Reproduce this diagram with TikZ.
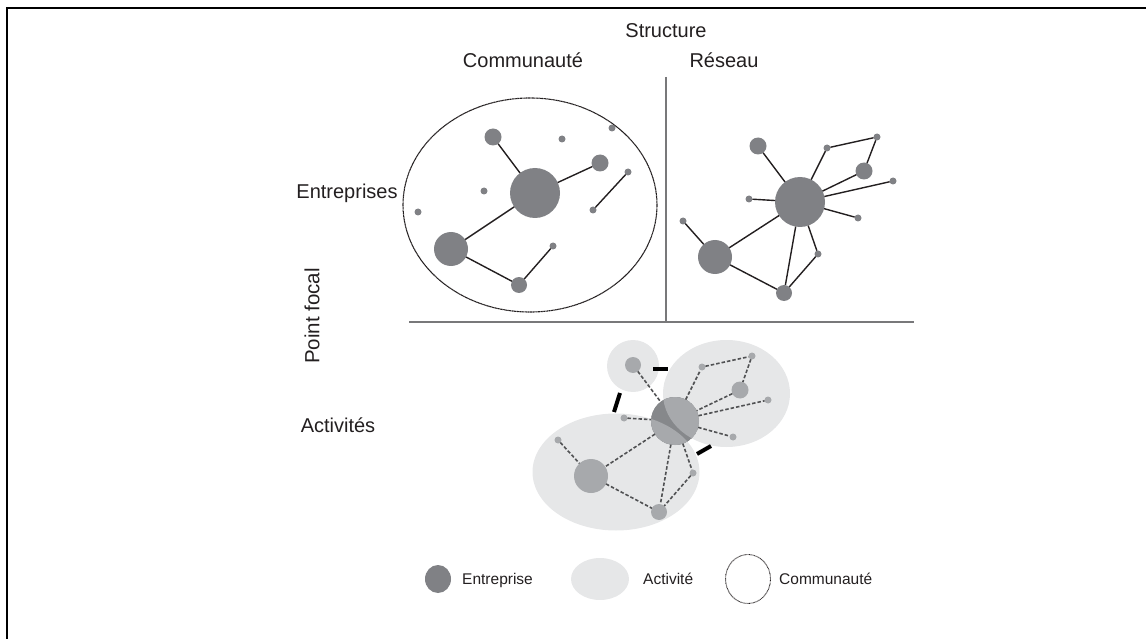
\documentclass[tikz,border=0pt]{standalone}
\usepackage{fontspec}
\setmainfont{Liberation Sans}
\usetikzlibrary{shapes.geometric}
\definecolor{entc}{RGB}{128,129,133}
\definecolor{actc}{RGB}{230,231,232}
\definecolor{actn}{RGB}{167,169,172}
\definecolor{actd}{RGB}{134,136,139}
\definecolor{linec}{RGB}{35,31,32}
\definecolor{dashc}{RGB}{80,81,83}
\definecolor{axisc}{RGB}{120,120,122}
\begin{document}
\begin{tikzpicture}[x=1pt,y=-1pt,
  ent/.style={circle,fill=entc,inner sep=0pt,outer sep=0pt,draw=none},
  bignode/.style={ent,minimum size=50pt},
  midnode/.style={ent,minimum size=34pt},
  mednode/.style={ent,minimum size=17pt},
  dotnode/.style={ent,minimum size=7pt},
  actnode/.style={fill=actn},
  actarea/.style={ellipse,fill=actc,inner sep=0pt,draw=none},
  link/.style={draw=linec,line width=1.4pt},
  dlink/.style={draw=dashc,line width=1.6pt,dash pattern=on 3.5pt off 2pt},
  bar/.style={draw=black,line width=4pt},
  axis/.style={draw=axisc,line width=1.5pt},
  lab/.style={font=\fontsize{20}{24}\selectfont,inner sep=0pt,text=linec},
  leg/.style={font=\fontsize{15.5}{18}\selectfont,inner sep=0pt,anchor=base west,text=linec},
  commu/.style={ellipse,draw=linec,line width=1.1pt,dash pattern=on 1.2pt off 0.4pt,inner sep=0pt,fill=none}
]
\useasboundingbox (0,0) rectangle (1146,639);
% frame
\coordinate (fBL) at (7,639);
\coordinate (fTL) at (7,8);
\coordinate (fTR) at (1146,8);
\draw[line width=2.4pt] (fBL) -- (fTL) -- (fTR);

% titles
\node[lab,anchor=base] (tStruct) at (666,38) {Structure};
\node[lab,anchor=base] (tComm) at (523,68) {Communauté};
\node[lab,anchor=base] (tRes) at (724,68) {Réseau};
\node[lab,anchor=base] (tEnt) at (347,199) {Entreprises};
\node[lab,anchor=base] (tAct) at (338,432) {Activités};
\node[lab,rotate=90,font=\fontsize{20.5}{24}\selectfont] (tPF) at (312,316) {Point focal};

% axes
\coordinate (vTop) at (666,77);
\coordinate (vBot) at (666,322);
\coordinate (hL) at (409,322);
\coordinate (hR) at (914,322);
\draw[axis] (vTop) -- (vBot);
\draw[axis] (hL) -- (hR);

% ---------- Communaute ----------
\node[commu,minimum width=254pt,minimum height=214pt] (comm) at (530,205) {};
\node[bignode] (c0) at (535,193) {};
\node[mednode] (c1) at (493,137) {};
\node[midnode] (c2) at (451,249) {};
\node[mednode,minimum size=16pt] (c3) at (519,285) {};
\node[mednode] (c4) at (600,163) {};
\node[dotnode] (d1) at (562,139) {};
\node[dotnode] (d2) at (612,128) {};
\node[dotnode] (d3) at (628,172) {};
\node[dotnode] (d4) at (593,210) {};
\node[dotnode] (d5) at (484,191) {};
\node[dotnode] (d6) at (418,212) {};
\node[dotnode] (d7) at (553,246) {};
\draw[link] (c1) -- (c0);
\draw[link] (c0) -- (c4);
\draw[link] (c0) -- (c2);
\draw[link] (c2) -- (c3);
\draw[link] (c3) -- (d7);
\draw[link] (d3) -- (d4);

% ---------- Reseau ----------
\node[bignode] (n0) at (800,202) {};
\node[mednode] (n1) at (758,146) {};
\node[mednode] (n2) at (864,171) {};
\node[midnode] (n3) at (715,257) {};
\node[mednode,minimum size=16pt] (n4) at (784,293) {};
\node[dotnode] (e1) at (827,148) {};
\node[dotnode] (e2) at (877,137) {};
\node[dotnode] (e3) at (893,181) {};
\node[dotnode] (e4) at (749,199) {};
\node[dotnode] (e5) at (858,218) {};
\node[dotnode] (e6) at (818,254) {};
\node[dotnode] (e7) at (683,221) {};
\draw[link] (n1) -- (n0);
\draw[link] (n0) -- (e1);
\draw[link] (e1) -- (e2);
\draw[link] (e2) -- (n2);
\draw[link] (n2) -- (n0);
\draw[link] (n0) -- (e3);
\draw[link] (e4) -- (n0);
\draw[link] (n0) -- (e5);
\draw[link] (n0) -- (n3);
\draw[link] (e7) -- (n3);
\draw[link] (n3) -- (n4);
\draw[link] (n0) -- (n4);
\draw[link] (n0) -- (e6);
\draw[link] (e6) -- (n4);

% ---------- Activites ----------
\node[actarea,minimum width=167pt,minimum height=117pt] (ALeft) at (616,472) {};
\node[actarea,minimum width=127pt,minimum height=107pt] (ARight) at (726.5,393.5) {};
\node[actarea,circle,minimum size=52pt] (ASmall) at (633,366) {};

\node[bignode,actnode,minimum size=48pt] (a0) at (675,421) {};
\begin{scope}
  \clip (a0.center) circle[radius=24pt];
  \fill[actd] (a0.center) circle[radius=24pt];
  \fill[actn] (616,472) ellipse[x radius=83.5pt,y radius=58.5pt];
  \fill[actn] (726.5,393.5) ellipse[x radius=63.5pt,y radius=53.5pt];
\end{scope}
\node[mednode,actnode,minimum size=16pt] (a1) at (633,365) {};
\node[mednode,actnode] (a2) at (740,390) {};
\node[midnode,actnode] (a3) at (591,476) {};
\node[mednode,actnode,minimum size=16pt] (a4) at (659,512) {};
\node[dotnode,actnode] (f1) at (702,367) {};
\node[dotnode,actnode] (f2) at (752,356) {};
\node[dotnode,actnode] (f3) at (768,400) {};
\node[dotnode,actnode] (f4) at (624,418) {};
\node[dotnode,actnode] (f5) at (733,437) {};
\node[dotnode,actnode] (f6) at (693,473) {};
\node[dotnode,actnode] (f7) at (558,440) {};
\draw[dlink] (a1) -- (a0);
\draw[dlink] (a0) -- (f1);
\draw[dlink] (f1) -- (f2);
\draw[dlink] (f2) -- (a2);
\draw[dlink] (a2) -- (a0);
\draw[dlink] (a0) -- (f3);
\draw[dlink] (f4) -- (a0);
\draw[dlink] (a0) -- (f5);
\draw[dlink] (a0) -- (a3);
\draw[dlink] (f7) -- (a3);
\draw[dlink] (a3) -- (a4);
\draw[dlink] (a0) -- (a4);
\draw[dlink] (a0) -- (f6);
\draw[dlink] (f6) -- (a4);

% black bars between activities
\coordinate (b1s) at (653,369);
\coordinate (b1e) at (668,369);
\coordinate (b2s) at (620,393);
\coordinate (b2e) at (614,412);
\coordinate (b3s) at (697,454);
\coordinate (b3e) at (711,446);
\draw[bar] (b1s) -- (b1e);
\draw[bar] (b2s) -- (b2e);
\draw[bar] (b3s) -- (b3e);

% ---------- Legend ----------
\node[ent,minimum width=26pt,minimum height=28pt,ellipse] (lEnt) at (438,579) {};
\node[leg] (lEntT) at (462,584) {Entreprise};
\node[actarea,minimum width=58pt,minimum height=42pt] (lAct) at (600,579) {};
\node[leg] (lActT) at (643,584) {Activité};
\node[commu,minimum width=45pt,minimum height=49pt,line width=0.9pt,dash pattern=on 0.7pt off 0.6pt] (lCom) at (748,579) {};
\node[leg] (lComT) at (779,584) {Communauté};
\end{tikzpicture}
\end{document}
